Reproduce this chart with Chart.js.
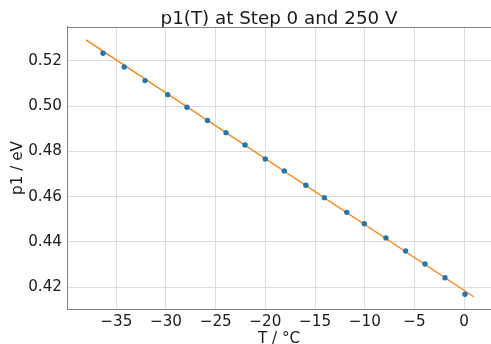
<!DOCTYPE html>
<html>
<head>
<meta charset="utf-8">
<script src="https://cdn.jsdelivr.net/npm/chart.js@4.4.0/dist/chart.umd.min.js"></script>
<style>
html,body{margin:0;padding:0;background:#fff;}
#wrap{width:491px;height:344px;}
</style>
</head>
<body>
<div id="wrap"><canvas id="c" width="491" height="344"></canvas></div>
<script>
const temperatures = [-36.34, -34.20, -32.11, -29.83, -27.89, -25.82, -23.96, -22.05, -20.01, -18.10, -15.92, -14.07, -11.81, -10.05, -7.87, -5.89, -3.94, -1.93, 0.08];
const p1Values = [0.5234, 0.5173, 0.5113, 0.5051, 0.4995, 0.4937, 0.4883, 0.4829, 0.4767, 0.4714, 0.4651, 0.4596, 0.4531, 0.4481, 0.4418, 0.4360, 0.4303, 0.4242, 0.4169];
const fitT = [-38.05, 0.96];
const fitP1 = [0.5293, 0.4158];
const xTicks = [-35, -30, -25, -20, -15, -10, -5, 0];
const yTicks = [0.42, 0.44, 0.46, 0.48, 0.50, 0.52];
const titleText = 'p1(T) at Step 0 and 250 V';
const xLabel = 'T / °C';
const yLabel = 'p1 / eV';

const FONT = "'DejaVu Sans', sans-serif";
Chart.defaults.font.family = FONT;
Chart.defaults.color = '#1a1a1a';

const scatterData = temperatures.map((t, i) => ({x: t, y: p1Values[i]}));
const fitData = fitT.map((t, i) => ({x: t, y: fitP1[i]}));

new Chart(document.getElementById('c'), {
  type: 'scatter',
  data: {
    datasets: [
      {
        label: 'fit',
        data: fitData,
        showLine: true,
        borderColor: '#ff7f0e',
        borderWidth: 1.3,
        pointRadius: 0,
        pointHoverRadius: 0,
        order: 2
      },
      {
        label: 'data',
        data: scatterData,
        backgroundColor: '#1f77b4',
        borderColor: '#1f77b4',
        pointRadius: 2.7,
        borderWidth: 0,
        order: 1
      }
    ]
  },
  options: {
    responsive: false,
    animation: false,
    layout: {autoPadding: false, padding: {left: 0, right: -1, top: 0, bottom: 0}},
    plugins: {
      legend: {display: false},
      tooltip: {enabled: false},
      title: {
        display: true,
        text: titleText,
        fullSize: false,
        font: {size: 18.3, weight: 'normal', family: FONT},
        color: '#1a1a1a',
        padding: {top: 8, bottom: -3}
      }
    },
    scales: {
      x: {
        type: 'linear',
        min: -39.96,
        max: 2.7,
        afterBuildTicks: s => { s.ticks = xTicks.map(v => ({value: v})); },
        afterFit: s => { s.height = 35; s.paddingLeft = 0; s.paddingRight = 0; },
        grid: {color: '#dcdcdc', lineWidth: 1, drawTicks: false},
        border: {color: '#808080', width: 1},
        ticks: {
          padding: 4,
          font: {size: 15.2},
          color: '#1a1a1a',
          callback: v => (v < 0 ? '\u2212' + Math.abs(v) : String(v))
        },
        title: {display: true, text: xLabel, font: {size: 15.2}, color: '#1a1a1a', padding: {top: 0, bottom: -4}}
      },
      y: {
        type: 'linear',
        min: 0.4104,
        max: 0.535,
        afterBuildTicks: s => { s.ticks = yTicks.map(v => ({value: v})); },
        afterFit: s => { s.width = 67; s.paddingTop = 0; s.paddingBottom = 0; },
        grid: {color: '#dcdcdc', lineWidth: 1, drawTicks: false},
        border: {color: '#808080', width: 1},
        ticks: {
          padding: 5,
          font: {size: 15.2},
          color: '#1a1a1a',
          callback: v => v.toFixed(2)
        },
        title: {display: true, text: yLabel, font: {size: 15.2}, color: '#1a1a1a', padding: {top: 9, bottom: 0}}
      }
    }
  },
  plugins: [{
    id: 'topSpine',
    afterDraw(chart) {
      const {ctx, chartArea} = chart;
      ctx.save();
      ctx.strokeStyle = '#808080';
      ctx.lineWidth = 1;
      ctx.beginPath();
      ctx.moveTo(chartArea.left, chartArea.top + 0.5);
      ctx.lineTo(chartArea.right, chartArea.top + 0.5);
      ctx.stroke();
      ctx.restore();
    }
  }]
});
</script>
</body>
</html>
